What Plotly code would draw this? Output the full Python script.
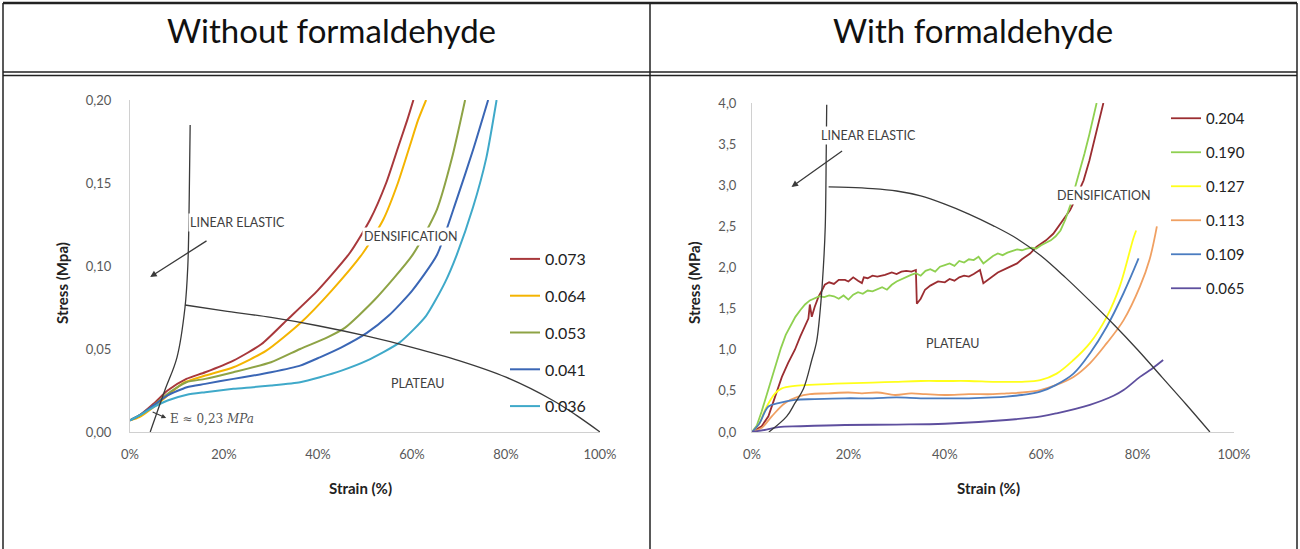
import plotly.graph_objects as go

W, H = 1300, 549
FONT = "Lato"

# ---------------- Left panel: without formaldehyde ----------------
left_labels = ["0.073", "0.064", "0.053", "0.041", "0.036"]
left_colors = ["#a8383b", "#f4b400", "#8ea345", "#3a66b5", "#3fa9c9"]

strain_073 = [0, 0.02, 0.05, 0.08, 0.12, 0.16, 0.22, 0.28, 0.334, 0.40, 0.468, 0.511, 0.545, 0.571, 0.59, 0.603]
stress_073 = [0.007, 0.010, 0.017, 0.025, 0.032, 0.036, 0.043, 0.053, 0.0675, 0.0855, 0.108, 0.128, 0.150, 0.172, 0.188, 0.2]

strain_064 = [0, 0.02, 0.05, 0.08, 0.113, 0.16, 0.22, 0.29, 0.362, 0.43, 0.496, 0.539, 0.57, 0.595, 0.613, 0.63]
stress_064 = [0.007, 0.009, 0.015, 0.022, 0.0295, 0.034, 0.039, 0.049, 0.0655, 0.0855, 0.108, 0.128, 0.150, 0.172, 0.188, 0.2]

strain_053 = [0, 0.02, 0.05, 0.08, 0.12, 0.16, 0.22, 0.30, 0.362, 0.42, 0.457, 0.52, 0.602, 0.653, 0.685, 0.713]
stress_053 = [0.007, 0.010, 0.016, 0.023, 0.030, 0.032, 0.036, 0.042, 0.050, 0.057, 0.0627, 0.0795, 0.107, 0.134, 0.165, 0.2]

strain_041 = [0, 0.02, 0.05, 0.08, 0.121, 0.16, 0.22, 0.262, 0.30, 0.362, 0.404, 0.45, 0.504, 0.55, 0.60, 0.653, 0.695, 0.73, 0.762]
stress_041 = [0.007, 0.010, 0.016, 0.022, 0.027, 0.029, 0.032, 0.034, 0.036, 0.040, 0.045, 0.051, 0.0597, 0.070, 0.085, 0.1066, 0.14, 0.17, 0.2]

strain_036 = [0, 0.02, 0.05, 0.08, 0.121, 0.16, 0.22, 0.262, 0.30, 0.362, 0.404, 0.45, 0.504, 0.574, 0.63, 0.67, 0.695, 0.73, 0.758, 0.78]
stress_036 = [0.007, 0.010, 0.015, 0.019, 0.0225, 0.024, 0.026, 0.027, 0.028, 0.030, 0.033, 0.037, 0.043, 0.054, 0.070, 0.090, 0.1066, 0.1355, 0.165, 0.2]

left_strain = [strain_073, strain_064, strain_053, strain_041, strain_036]
left_stress = [stress_073, stress_064, stress_053, stress_041, stress_036]

# guide curves (left)
le_left_strain = [0.043, 0.074, 0.100, 0.117, 0.123, 0.126, 0.128]
le_left_stress = [0.0, 0.025, 0.045, 0.075, 0.10, 0.14, 0.185]
pl_left_strain = [0.117, 0.2, 0.3, 0.4, 0.5, 0.6, 0.7, 0.8, 0.9, 0.95, 1.0]
pl_left_stress = [0.0765, 0.073, 0.069, 0.064, 0.058, 0.051, 0.043, 0.033, 0.019, 0.010, 0.0]

# ---------------- Right panel: with formaldehyde ----------------
right_labels = ["0.204", "0.190", "0.127", "0.113", "0.109", "0.065"]
right_colors = ["#9b2d31", "#8fd050", "#ffff1a", "#f0a062", "#4a7cc0", "#5e4f9e"]

strain_204 = [0, 0.02, 0.034, 0.05, 0.062, 0.075, 0.089, 0.10, 0.11, 0.117, 0.12, 0.124, 0.13, 0.138, 0.145,
              0.151, 0.16, 0.17, 0.18, 0.193, 0.20, 0.21, 0.22, 0.228, 0.232, 0.24, 0.25, 0.26, 0.276, 0.29,
              0.30, 0.31, 0.32, 0.331, 0.340, 0.342, 0.35, 0.359, 0.37, 0.386, 0.40, 0.41, 0.42, 0.43, 0.44,
              0.45, 0.46, 0.473, 0.48, 0.487, 0.50, 0.51, 0.528, 0.54, 0.55, 0.56, 0.577, 0.59, 0.60, 0.61,
              0.625, 0.646, 0.66, 0.67, 0.688, 0.70, 0.71, 0.72, 0.729]
stress_204 = [0, 0.07, 0.19, 0.45, 0.67, 0.84, 1.0, 1.16, 1.30, 1.38, 1.55, 1.40, 1.52, 1.645, 1.72,
              1.79, 1.82, 1.80, 1.85, 1.85, 1.83, 1.88, 1.84, 1.81, 1.88, 1.87, 1.90, 1.89, 1.91, 1.94,
              1.92, 1.95, 1.96, 1.95, 1.97, 1.56, 1.62, 1.73, 1.78, 1.83, 1.82, 1.86, 1.84, 1.88, 1.90,
              1.89, 1.92, 1.97, 1.81, 1.84, 1.90, 1.94, 1.99, 2.02, 2.05, 2.10, 2.17, 2.25, 2.29, 2.33,
              2.41, 2.58, 2.70, 2.82, 3.06, 3.30, 3.55, 3.78, 4.0]

strain_190 = [0.00, 0.01, 0.02, 0.03, 0.04, 0.05, 0.06, 0.07, 0.08, 0.09, 0.10, 0.11, 0.12, 0.13, 0.14,
              0.15, 0.16, 0.17, 0.18, 0.19, 0.20, 0.21, 0.22, 0.23, 0.24, 0.25, 0.26, 0.27, 0.28, 0.29,
              0.30, 0.31, 0.32, 0.33, 0.34, 0.35, 0.36, 0.37, 0.38, 0.39, 0.40, 0.41, 0.42, 0.43, 0.44,
              0.45, 0.46, 0.47, 0.48, 0.49, 0.50, 0.51, 0.52, 0.53, 0.54, 0.55, 0.56, 0.57, 0.58, 0.59,
              0.60, 0.61, 0.62, 0.63, 0.64, 0.65, 0.66, 0.67, 0.68, 0.69, 0.70, 0.71, 0.715]
stress_190 = [0, 0.08, 0.25, 0.45, 0.65, 0.84, 1.02, 1.18, 1.30, 1.40, 1.48, 1.55, 1.60, 1.63, 1.65,
              1.64, 1.66, 1.65, 1.62, 1.66, 1.61, 1.67, 1.70, 1.68, 1.72, 1.71, 1.74, 1.76, 1.73, 1.79,
              1.83, 1.86, 1.89, 1.91, 1.93, 1.90, 1.96, 1.98, 1.95, 2.01, 2.03, 2.05, 2.02, 2.08, 2.06,
              2.10, 2.09, 2.13, 2.05, 2.10, 2.14, 2.17, 2.15, 2.18, 2.20, 2.22, 2.21, 2.23, 2.24, 2.23,
              2.27, 2.30, 2.33, 2.38, 2.45, 2.58, 2.75, 2.97, 3.17, 3.39, 3.62, 3.86, 4.0]

strain_127 = [0, 0.015, 0.027, 0.048, 0.062, 0.089, 0.13, 0.193, 0.25, 0.297, 0.35, 0.4, 0.45, 0.5, 0.528,
              0.56, 0.598, 0.632, 0.667, 0.701, 0.736, 0.763, 0.791, 0.797]
stress_127 = [0, 0.1, 0.27, 0.47, 0.53, 0.56, 0.575, 0.59, 0.60, 0.61, 0.62, 0.62, 0.62, 0.61, 0.61,
              0.61, 0.63, 0.71, 0.875, 1.08, 1.40, 1.77, 2.35, 2.45]

strain_113 = [0, 0.02, 0.041, 0.068, 0.096, 0.12, 0.158, 0.2, 0.228, 0.26, 0.297, 0.33, 0.36, 0.40, 0.45,
              0.50, 0.528, 0.56, 0.598, 0.63, 0.667, 0.701, 0.736, 0.771, 0.805, 0.825, 0.84]
stress_113 = [0, 0.05, 0.19, 0.35, 0.43, 0.46, 0.47, 0.48, 0.47, 0.48, 0.45, 0.47, 0.46, 0.45, 0.46,
              0.46, 0.47, 0.48, 0.51, 0.57, 0.67, 0.835, 1.08, 1.36, 1.77, 2.1, 2.5]

strain_109 = [0, 0.015, 0.034, 0.055, 0.089, 0.13, 0.193, 0.25, 0.3, 0.35, 0.4, 0.45, 0.5, 0.528, 0.56,
              0.598, 0.63, 0.667, 0.701, 0.736, 0.771, 0.802]
stress_109 = [0, 0.1, 0.31, 0.35, 0.39, 0.40, 0.41, 0.41, 0.42, 0.41, 0.41, 0.41, 0.42, 0.43, 0.45,
              0.49, 0.57, 0.71, 0.955, 1.28, 1.69, 2.11]

strain_065 = [0, 0.03, 0.055, 0.1, 0.193, 0.3, 0.4, 0.528, 0.6, 0.632, 0.701, 0.75, 0.771, 0.805, 0.83, 0.853]
stress_065 = [0, 0.03, 0.06, 0.07, 0.085, 0.09, 0.10, 0.146, 0.19, 0.227, 0.33, 0.44, 0.51, 0.67, 0.77, 0.875]

right_strain = [strain_204, strain_190, strain_127, strain_113, strain_109, strain_065]
right_stress = [stress_204, stress_190, stress_127, stress_113, stress_109, stress_065]
right_shape = ["linear", "linear", "spline", "spline", "spline", "spline"]

le_right_strain = [0.035, 0.072, 0.089, 0.107, 0.124, 0.134, 0.141, 0.148, 0.152, 0.154, 0.155]
le_right_stress = [0.0, 0.19, 0.35, 0.53, 0.875, 1.1, 1.45, 2.0, 2.5, 3.4, 3.98]
pl_right_strain = [0.159, 0.2, 0.25, 0.3, 0.35, 0.4, 0.45, 0.5, 0.55, 0.6, 0.65, 0.7, 0.75, 0.8, 0.85, 0.9, 0.95]
pl_right_stress = [2.98, 2.975, 2.96, 2.93, 2.87, 2.77, 2.65, 2.51, 2.35, 2.14, 1.88, 1.60, 1.31, 1.0, 0.67, 0.34, 0.0]

# ---------------- figure ----------------
fig = go.Figure()

def px_x(p):
    return p / W

def px_y(p):
    return 1 - p / H

GUIDE = "#3a3a3a"

for i, lab in enumerate(left_labels):
    fig.add_trace(go.Scatter(x=left_strain[i], y=left_stress[i], mode="lines", name=lab,
                             line=dict(color=left_colors[i], width=2, shape="spline", smoothing=0.6),
                             xaxis="x", yaxis="y", legend="legend", legendgroup="L" + lab))
fig.add_trace(go.Scatter(x=le_left_strain, y=le_left_stress, mode="lines", showlegend=False,
                         line=dict(color=GUIDE, width=1.3, shape="spline"), xaxis="x", yaxis="y"))
fig.add_trace(go.Scatter(x=pl_left_strain, y=pl_left_stress, mode="lines", showlegend=False,
                         line=dict(color=GUIDE, width=1.3, shape="spline"), xaxis="x", yaxis="y"))

for i, lab in enumerate(right_labels):
    fig.add_trace(go.Scatter(x=right_strain[i], y=right_stress[i], mode="lines", name=lab,
                             line=dict(color=right_colors[i], width=1.8, shape=right_shape[i]),
                             xaxis="x2", yaxis="y2", legend="legend2", legendgroup="R" + lab))
fig.add_trace(go.Scatter(x=le_right_strain, y=le_right_stress, mode="lines", showlegend=False,
                         line=dict(color=GUIDE, width=1.3, shape="spline"), xaxis="x2", yaxis="y2"))
fig.add_trace(go.Scatter(x=pl_right_strain, y=pl_right_stress, mode="lines", showlegend=False,
                         line=dict(color=GUIDE, width=1.3, shape="spline"), xaxis="x2", yaxis="y2"))

axis_common = dict(showgrid=False, zeroline=False, showline=True, linecolor="#d0d0d0", linewidth=1,
                   ticks="", automargin=False, tickfont=dict(family=FONT, size=13, color="#595959"))

fig.update_layout(
    width=W, height=H, autosize=False,
    margin=dict(l=0, r=0, t=0, b=0, pad=0, autoexpand=False),
    paper_bgcolor="white", plot_bgcolor="white",
    separators=",.",
    font=dict(family=FONT, color="#222"),
    xaxis=dict(domain=[px_x(130), px_x(600)], range=[0, 1], dtick=0.2, tickformat=".0%",
               anchor="y", ticklabelstandoff=10, **axis_common),
    yaxis=dict(domain=[px_y(432), px_y(100)], range=[0, 0.2], dtick=0.05, tickformat=".2f",
               anchor="x", ticklabelstandoff=15, **axis_common),
    xaxis2=dict(domain=[px_x(752), px_x(1234)], range=[0, 1], dtick=0.2, tickformat=".0%",
                anchor="y2", ticklabelstandoff=10, **axis_common),
    yaxis2=dict(domain=[px_y(432), px_y(103)], range=[0, 4], dtick=0.5, tickformat=".1f",
                anchor="x2", ticklabelstandoff=12, **axis_common),
    legend=dict(x=px_x(505), y=px_y(242), xanchor="left", yanchor="top",
                font=dict(family=FONT, size=16, color="#222"), bgcolor="rgba(0,0,0,0)",
                tracegroupgap=13, traceorder="grouped"),
    legend2=dict(x=px_x(1166), y=px_y(102), xanchor="left", yanchor="top",
                 font=dict(family=FONT, size=15, color="#222"), bgcolor="rgba(0,0,0,0)",
                 tracegroupgap=11.5, traceorder="grouped"),
)

lab_font = dict(family=FONT, size=12.5, color="#404040")
ann = []
def label(text, x, y, xr, yr):
    ann.append(dict(text=text, x=x, y=y, xref=xr, yref=yr, showarrow=False, font=lab_font,
                    xanchor="center", yanchor="middle", bgcolor="white", borderpad=1))

label("LINEAR ELASTIC", 0.228, 0.126, "x", "y")
label("DENSIFICATION", 0.596, 0.1175, "x", "y")
label("PLATEAU", 0.613, 0.0295, "x", "y")
label("LINEAR ELASTIC", 0.242, 3.60, "x2", "y2")
label("DENSIFICATION", 0.729, 2.88, "x2", "y2")
label("PLATEAU", 0.418, 1.08, "x2", "y2")

# arrows
ann.append(dict(text="", x=0.043, y=0.0934, ax=0.166, ay=0.1157, xref="x", yref="y", axref="x", ayref="y",
                showarrow=True, arrowhead=2, arrowsize=1, arrowwidth=1.3, arrowcolor=GUIDE))
ann.append(dict(text="", x=0.082, y=2.98, ax=0.19, ay=3.43, xref="x2", yref="y2", axref="x2", ayref="y2",
                showarrow=True, arrowhead=2, arrowsize=1, arrowwidth=1.3, arrowcolor=GUIDE))
ann.append(dict(text="", x=0.077, y=0.0084, ax=0.045, ay=0.0125, xref="x", yref="y", axref="x", ayref="y",
                showarrow=True, arrowhead=2, arrowsize=0.8, arrowwidth=1.2, arrowcolor=GUIDE))
ann.append(dict(text="E ≈ 0,23 <i>MPa</i>", x=0.081, y=0.0078, xref="x", yref="y", xanchor="left",
                yanchor="middle", showarrow=False, font=dict(family="DejaVu Serif", size=12, color="#555")))

# axis titles
tfont = dict(family=FONT, size=15, color="#222")
def paper_text(text, px, py, font, angle=0):
    ann.append(dict(text=text, x=px_x(px), y=px_y(py), xref="paper", yref="paper", xanchor="center",
                    yanchor="middle", showarrow=False, font=font, textangle=angle))

paper_text("<b>Strain (%)</b>", 360, 488, tfont)
paper_text("<b>Strain (%)</b>", 988, 488, tfont)
paper_text("<b>Stress (Mpa)</b>", 62, 283, tfont, -90)
paper_text("<b>Stress (MPa)</b>", 694, 283, tfont, -90)

# header titles
hfont = dict(family=FONT, size=33, color="#111")
paper_text("Without formaldehyde", 331, 30, hfont)
paper_text("With formaldehyde", 973, 30, hfont)
fig.update_layout(annotations=ann)

# table frame
shapes = []
def hline(py, w=1.5, c="#222"):
    shapes.append(dict(type="line", xref="paper", yref="paper", x0=px_x(3), x1=px_x(1297),
                       y0=px_y(py), y1=px_y(py), line=dict(color=c, width=w)))
def vline(px, w=1.5, c="#222"):
    shapes.append(dict(type="line", xref="paper", yref="paper", x0=px_x(px), x1=px_x(px),
                       y0=px_y(3), y1=px_y(549), line=dict(color=c, width=w)))
hline(3, 2.5)
hline(72, 1.5)
hline(75.5, 1.5)
vline(3, 1.5)
vline(650, 1.5)
vline(1297, 1.5)
fig.update_layout(shapes=shapes)

fig.write_html("out.html", config={"displayModeBar": False},
               post_script="document.body.style.margin='0';document.body.style.overflow='hidden';")
